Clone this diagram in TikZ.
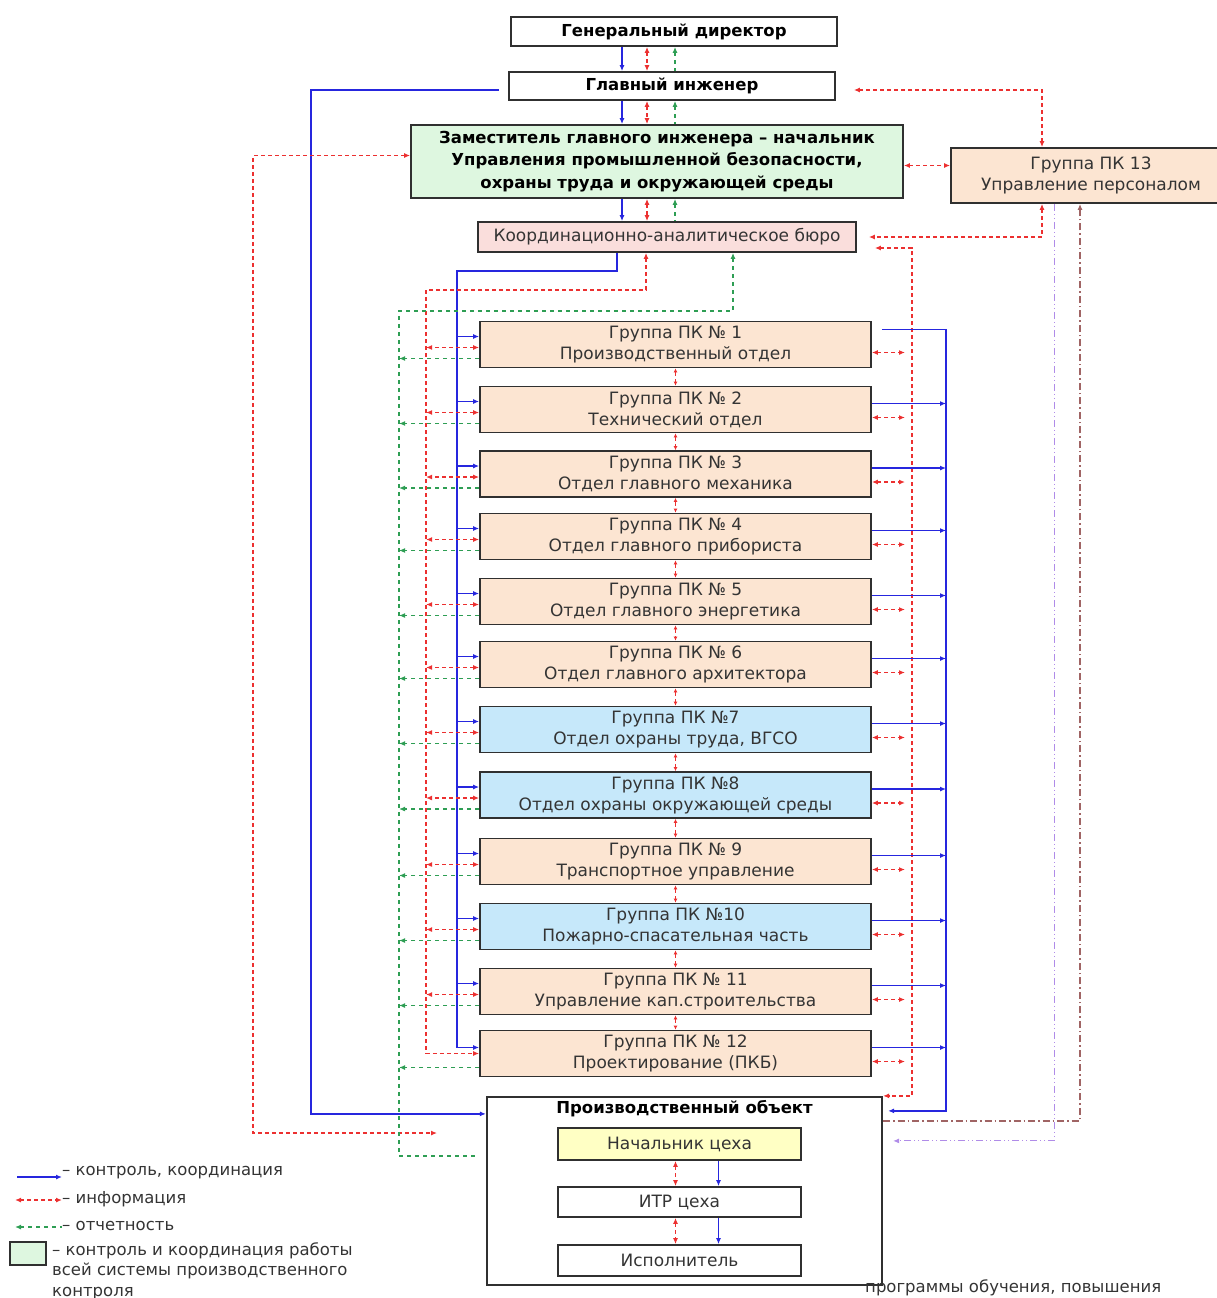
\documentclass[tikz,border=0pt]{standalone}
\usepackage{fontspec}
\setmainfont{DejaVu Sans}
\usetikzlibrary{calc,arrows.meta,positioning}
\definecolor{ctrlBlue}{RGB}{38,38,222}
\definecolor{infoRed}{RGB}{236,48,48}
\definecolor{repGreen}{RGB}{46,158,84}
\definecolor{unitLine}{RGB}{48,48,48}
\definecolor{unitText}{RGB}{52,52,52}
\definecolor{unitGreen}{RGB}{222,247,224}
\definecolor{unitPeach}{RGB}{252,229,210}
\definecolor{unitRose}{RGB}{250,222,220}
\definecolor{unitSky}{RGB}{198,232,250}
\definecolor{unitYellow}{RGB}{255,255,196}
\definecolor{trainPurple}{RGB}{176,140,232}
\definecolor{trainBrown}{RGB}{160,100,100}

\tikzset{
  unit/.style={draw=unitLine, line width=1.8pt, text=unitText, align=center,
    inner sep=0pt, font=\fontsize{17}{21}\selectfont},
  chief/.style={unit, text=black, font=\bfseries\fontsize{16.5}{22.5}\selectfont},
  legtext/.style={anchor=west, text=unitText, inner sep=0pt, align=left,
    font=\fontsize{16.5}{20.5}\selectfont},
  ctrl/.style={ctrlBlue, line width=1.6pt},
  info/.style={infoRed, line width=1.4pt, dash pattern=on 4pt off 3pt},
  rep/.style={repGreen, line width=1.3pt, dash pattern=on 4pt off 4pt},
  trainIn/.style={trainPurple, line width=1pt, dash pattern=on 7pt off 3pt on 1pt off 3pt on 1pt off 3pt},
  trainOut/.style={trainBrown, line width=1.2pt, dash pattern=on 7pt off 3pt on 1.5pt off 3pt},
}

\begin{document}
\begin{tikzpicture}[x=1pt,y=-1pt,>={Latex[length=6pt,width=5pt]}]
    \useasboundingbox (0,0) rectangle (1217,1298);
    \clip (0,0) rectangle (1217,1298);

    % management chain
    \node[chief, minimum width=326pt, minimum height=29pt] (gd) at (674,31.5) {Генеральный директор};
    \node[chief, minimum width=326pt, minimum height=28pt] (gi) at (672,86) {Главный инженер};
    \node[chief, fill=unitGreen, minimum width=492pt, minimum height=73pt] (zam) at (657,161.5)
        {Заместитель главного инженера – начальник\\Управления промышленной безопасности,\\охраны труда и окружающей среды};
    \node[unit, fill=unitRose, minimum width=378pt, minimum height=30pt] (kab) at (667,237) {Координационно-аналитическое бюро};
    \node[unit, fill=unitPeach, minimum width=280pt, minimum height=55pt] (pk13) at (1091,175.5) {Группа ПК 13\\Управление персоналом};

    % groups of production control
    \foreach \i/\yc/\tint/\grp/\dept in {
        1/344.5/unitPeach/{Группа ПК № 1}/{Производственный отдел},
        2/409.5/unitPeach/{Группа ПК № 2}/{Технический отдел},
        3/474/unitPeach/{Группа ПК № 3}/{Отдел главного механика},
        4/536.5/unitPeach/{Группа ПК № 4}/{Отдел главного прибориста},
        5/601.5/unitPeach/{Группа ПК № 5}/{Отдел главного энергетика},
        6/664.5/unitPeach/{Группа ПК № 6}/{Отдел главного архитектора},
        7/729.5/unitSky/{Группа ПК №7}/{Отдел охраны труда, ВГСО},
        8/795/unitSky/{Группа ПК №8}/{Отдел охраны окружающей среды},
        9/861.5/unitPeach/{Группа ПК № 9}/{Транспортное управление},
        10/926.5/unitSky/{Группа ПК №10}/{Пожарно-спасательная часть},
        11/991.5/unitPeach/{Группа ПК № 11}/{Управление кап.строительства},
        12/1053.5/unitPeach/{Группа ПК № 12}/{Проектирование (ПКБ)}}
        \node[unit, fill=\tint, minimum width=391pt, minimum height=46pt] (g\i) at (675.5,\yc) {\grp\\\dept};

    % production object
    \node[unit, line width=2.2pt, minimum width=395pt, minimum height=188pt] (prod) at (684.5,1191) {};
    \node[chief, draw=none, below=4pt of prod.north] (prodTitle) {Производственный объект};
    \node[unit, fill=unitYellow, minimum width=243pt, minimum height=32pt] (nach) at (679.5,1144) {Начальник цеха};
    \node[unit, minimum width=243pt, minimum height=30pt] (itr) at (679.5,1202) {ИТР цеха};
    \node[unit, minimum width=243pt, minimum height=31pt] (isp) at (679.5,1260.5) {Исполнитель};

    % bus lines
    \coordinate (xCtrl) at (622,0);
    \coordinate (xInfo) at (647,0);
    \coordinate (xRep) at (675,0);
    \coordinate (busCtrlL) at (311,600);
    \coordinate (busInfoL) at (253,600);
    \coordinate (busCtrlG) at (457,600);
    \coordinate (busInfoG) at (426,600);
    \coordinate (busRepG) at (399,600);
    \coordinate (busCtrlR) at (946,600);
    \coordinate (busInfoR) at (912,600);
    \coordinate (busInfoRs) at (905,600);
    \coordinate (busPK) at (1042,600);
    \coordinate (busTrainIn) at (1054,600);
    \coordinate (busTrainOut) at (1080,600);
    \coordinate (infoEndL) at (437,1133);

    % chain links
    \foreach \up/\dn in {gd/gi, gi/zam, zam/kab}{
        \draw[ctrl,->] (\up.south -| xCtrl) -- (\dn.north -| xCtrl);
        \draw[info,<->] (\up.south -| xInfo) -- (\dn.north -| xInfo);
        \draw[rep,<-] (\up.south -| xRep) -- (\dn.north -| xRep);
    }

    % outer links
    \draw[ctrl,->] ([xshift=-9pt,yshift=-4pt]gi.west) -| (busCtrlL) |- ([yshift=-18pt]prod.north west);
    \draw[info,<->] ([yshift=6pt]zam.west) -| (busInfoL) |- (infoEndL);
    \draw[info,<->] (pk13.north -| busPK) |- ([xshift=18pt,yshift=-4pt]gi.east);
    \draw[info,<->] ([yshift=-4pt]zam.east) -- ([yshift=-4pt]zam.east -| pk13.west);
    \draw[info,<->] (pk13.south -| busPK) |- ([xshift=12pt]kab.east);
    \draw[info,<->] ([xshift=18pt,yshift=-11pt]kab.east) -| (busInfoR) |- (prod.north east);
    \draw[ctrl,->] ([xshift=10pt,yshift=15pt]g1.east) -| (busCtrlR) |- ([xshift=5pt,yshift=-15pt]prod.north east);

    % links to the groups
    \draw[ctrl,->] ([xshift=-50pt]kab.south) -- ++(0,18) -| (busCtrlG) |- ([yshift=6pt]g12.west);
    \draw[info,<->] ([xshift=-21pt]kab.south) -- ++(0,37) -| (busInfoG) |- (g12.west);
    \draw[rep,<-] ([xshift=66pt]kab.south) -- ++(0,58) -| (busRepG) |- ([xshift=-10pt,yshift=-60pt]prod.north west);
    \foreach \i in {1,...,11}{
        \draw[ctrl,->] ([yshift=8pt]g\i.west -| busCtrlG) -- ([yshift=8pt]g\i.west);
        \draw[info,<->] ([yshift=-3pt]g\i.west) -- ([yshift=-3pt]g\i.west -| busInfoG);
    }
    \foreach \i in {1,...,12}{
        \draw[rep,->] ([yshift=-14pt]g\i.west) -- ([yshift=-14pt]g\i.west -| busRepG);
        \draw[info,<->] ([yshift=-8pt]g\i.east) -- ([yshift=-8pt]g\i.east -| busInfoRs);
    }
    \foreach \i in {2,...,12}
        \draw[ctrl,->] ([yshift=6pt]g\i.east) -- ([yshift=6pt]g\i.east -| busCtrlR);
    \foreach \i [evaluate=\i as \j using int(\i+1)] in {1,...,11}
        \draw[info,{Latex[length=4pt,width=4pt]}-{Latex[length=4pt,width=4pt]}] (g\i.south) -- (g\j.north);

    % inside the production object
    \draw[info,<->] ([xshift=-4pt]nach.south) -- ([xshift=-4pt]itr.north);
    \draw[info,<->] ([xshift=-4pt]itr.south) -- ([xshift=-4pt]isp.north);
    \draw[ctrl,line width=1pt,->] ([xshift=39pt]nach.south) -- ([xshift=39pt]itr.north);
    \draw[ctrl,line width=1pt,->] ([xshift=39pt]itr.south) -- ([xshift=39pt]isp.north);

    % training
    \draw[trainOut,->] ([yshift=-25pt]prod.north east) -| (pk13.south -| busTrainOut);
    \draw[trainIn,->] (pk13.south -| busTrainIn) |- ([xshift=10pt,yshift=-45pt]prod.north east);
    \node[legtext] (trainNote) at (865,1288) {программы обучения, повышения};

    % legend
    \coordinate (lgCtrlA) at (17,1177);
    \coordinate (lgInfoA) at (15,1200);
    \coordinate (lgRepA) at (15,1227);
    \node[legtext] (lgCtrl) at (62,1173) {– контроль, координация};
    \node[legtext] (lgInfo) at (62,1199) {– информация};
    \node[legtext] (lgRep) at (62,1226) {– отчетность};
    \draw[ctrl,->] (lgCtrlA) -- (lgCtrlA -| lgCtrl.west);
    \draw[info,<->] (lgInfoA) -- (lgInfoA -| lgInfo.west);
    \draw[rep,<-] (lgRepA) -- (lgRepA -| lgRep.west);
    \node[unit, line width=2pt, fill=unitGreen, minimum width=36pt, minimum height=23pt] (lgBox) at (28,1253.5) {};
    \node[legtext, anchor=north west] (lgBoxText) at (52,1242)
        {– контроль и координация работы\\всей системы производственного\\контроля};
\end{tikzpicture}
\end{document}
